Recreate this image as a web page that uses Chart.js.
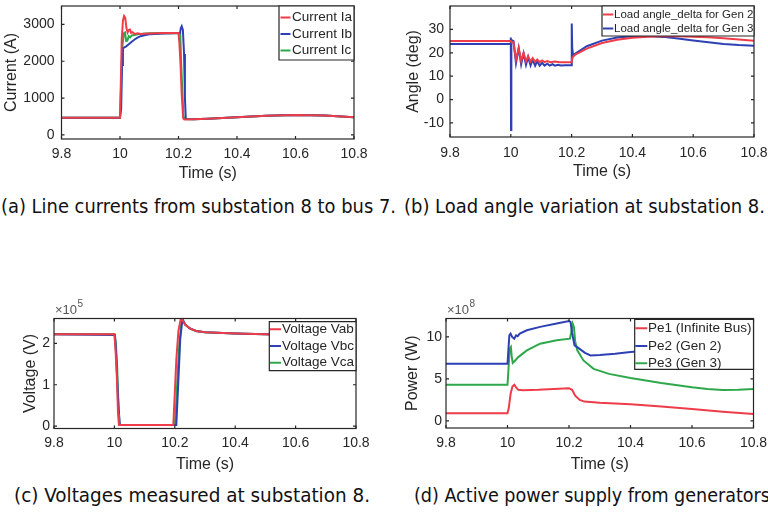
<!DOCTYPE html>
<html>
<head>
<meta charset="utf-8">
<script src="https://cdn.jsdelivr.net/npm/chart.js@4.4.1/dist/chart.umd.min.js"></script>
<style>
  body { margin: 0; background: #fff; width: 768px; height: 519px; overflow: hidden; position: relative; }
  canvas { position: absolute; }
  .cap { position: absolute; white-space: nowrap; font-family: "DejaVu Sans Condensed", "DejaVu Sans", sans-serif;
         font-size: 19px; line-height: 22px; color: #111; transform-origin: 0 50%; }
</style>
</head>
<body>
<canvas id="ca" width="384" height="190" style="left:0;top:0"></canvas>
<canvas id="cb" width="384" height="190" style="left:384px;top:0"></canvas>
<canvas id="cc" width="384" height="190" style="left:0;top:285px"></canvas>
<canvas id="cd" width="384" height="190" style="left:384px;top:285px"></canvas>
<div class="cap" id="capA" data-w="395" style="left:1px;top:195px">(a) Line currents from substation 8 to bus 7.</div>
<div class="cap" id="capB" data-w="361" style="left:404px;top:195px">(b) Load angle variation at substation 8.</div>
<div class="cap" id="capC" data-w="356" style="left:14px;top:484px">(c) Voltages measured at substation 8.</div>
<div class="cap" id="capD" data-w="356" style="left:414px;top:484px">(d) Active power supply from generators</div>
<script>
// shared time axis
const xTicks = [9.8, 10, 10.2, 10.4, 10.6, 10.8];

// (a) line currents, A  [time s, value]
const currentIa = [[9.8,470],[10.0,470],[10.003,1500],[10.006,2600],[10.01,3100],[10.014,3230],[10.018,3180],[10.022,2900],
  [10.026,2780],[10.03,2850],[10.034,2860],[10.038,2770],[10.043,2790],[10.05,2740],[10.06,2760],[10.07,2740],[10.08,2750],
  [10.1,2755],[10.15,2765],[10.2,2765],[10.203,2500],[10.207,1900],[10.211,1100],[10.216,450],[10.22,420],[10.25,425],
  [10.3,440],[10.4,480],[10.5,520],[10.6,540],[10.7,530],[10.8,480]];
const currentIb = [[9.8,470],[10.0,470],[10.004,700],[10.007,1900],[10.01,2350],[10.015,2380],[10.02,2400],[10.03,2460],
  [10.04,2530],[10.05,2590],[10.06,2640],[10.07,2680],[10.08,2700],[10.1,2730],[10.15,2755],[10.205,2765],[10.208,2900],
  [10.211,2950],[10.215,2850],[10.219,2200],[10.222,1000],[10.225,430],[10.25,425],[10.3,440],[10.4,480],[10.5,520],
  [10.6,540],[10.7,530],[10.8,480]];
const currentIc = [[9.8,470],[10.0,470],[10.004,1400],[10.008,2400],[10.013,2760],[10.017,2780],[10.021,2550],[10.025,2560],
  [10.03,2680],[10.035,2650],[10.04,2700],[10.05,2710],[10.06,2730],[10.08,2750],[10.1,2760],[10.2,2765],[10.206,2760],
  [10.209,2000],[10.213,1200],[10.217,500],[10.222,430],[10.25,425],[10.3,440],[10.4,480],[10.5,520],[10.6,540],
  [10.7,530],[10.8,480]];
const yTicksA = [0, 1000, 2000, 3000];

// (b) load angle, deg
const deltaGen2 = [[9.8,25],[10.0,25],[10.002,24.5],[10.009,24.5],[10.017,17],[10.026,22],[10.034,16.5],[10.042,20],
  [10.05,16.3],[10.057,18.6],[10.065,16.2],[10.072,17.7],[10.08,16.1],[10.087,17.1],[10.095,16],[10.103,16.7],[10.111,16],
  [10.12,16.5],[10.13,16],[10.145,16.3],[10.16,16],[10.2,16],[10.203,18],[10.21,19],[10.22,19.8],[10.25,21.8],[10.3,24.2],
  [10.35,25.6],[10.4,26.4],[10.45,26.9],[10.5,27.1],[10.55,27.1],[10.6,26.9],[10.65,26.6],[10.7,26.2],[10.75,25.7],[10.8,25.1]];
const deltaGen3 = [[9.8,23.8],[9.9995,23.8],[10.0,26.5],[10.0008,-13],[10.0018,25.5],[10.009,25],[10.017,15.5],[10.026,22],
  [10.034,15],[10.042,19.8],[10.05,14.8],[10.057,18.2],[10.065,14.6],[10.072,17.1],[10.08,14.5],[10.087,16.4],[10.095,14.5],
  [10.103,15.7],[10.111,14.5],[10.12,15.3],[10.128,14.5],[10.137,15.1],[10.145,14.5],[10.155,14.9],[10.165,14.6],[10.18,14.7],
  [10.2,14.7],[10.2005,32.5],[10.202,22],[10.205,19],[10.22,20.3],[10.25,22.8],[10.3,25.2],[10.35,26.5],[10.4,27.1],
  [10.45,27.2],[10.5,26.8],[10.55,26.1],[10.6,25.3],[10.65,24.5],[10.7,23.8],[10.75,23.3],[10.8,23]];
const yTicksB = [-10, 0, 10, 20, 30];

// (c) line voltages, V
const voltVab = [[9.8,222000],[10.0,222000],[10.004,180000],[10.008,120000],[10.012,30000],[10.015,3000],[10.195,3000],
  [10.2,80000],[10.205,160000],[10.212,230000],[10.22,260000],[10.226,255000],[10.235,245000],[10.25,236000],[10.27,230000],
  [10.3,227000],[10.4,224000],[10.5,222000],[10.6,221000],[10.7,220000],[10.8,220000]];
const voltVbc = [[9.8,222000],[10.002,220000],[10.006,170000],[10.01,100000],[10.014,40000],[10.018,3000],[10.205,3000],
  [10.208,50000],[10.213,130000],[10.218,210000],[10.224,250000],[10.228,255000],[10.235,245000],[10.25,236000],
  [10.27,230000],[10.3,227000],[10.4,224000],[10.5,222000],[10.6,221000],[10.7,220000],[10.8,220000]];
const voltVca = [[9.8,222000],[10.0,222000],[10.005,200000],[10.009,145000],[10.013,60000],[10.017,3000],[10.2,3000],
  [10.205,60000],[10.21,135000],[10.215,200000],[10.222,250000],[10.226,255000],[10.235,245000],[10.25,236000],
  [10.27,230000],[10.3,227000],[10.4,224000],[10.5,222000],[10.6,221000],[10.7,220000],[10.8,220000]];
const yTicksC = [0, 100000, 200000];

// (d) active power, W
const powerPe1 = [[9.8,0.9e8],[10.0,0.9e8],[10.004,1.5e8],[10.01,3.2e8],[10.016,4.1e8],[10.022,4.3e8],[10.028,4.0e8],
  [10.035,3.7e8],[10.05,3.65e8],[10.1,3.7e8],[10.15,3.8e8],[10.2,3.9e8],[10.21,3.7e8],[10.22,3.0e8],[10.235,2.5e8],
  [10.25,2.3e8],[10.3,2.15e8],[10.4,1.98e8],[10.5,1.7e8],[10.6,1.4e8],[10.7,1.1e8],[10.8,0.83e8]];
const powerPe2 = [[9.8,6.8e8],[10.0,6.8e8],[10.003,8.5e8],[10.006,10.2e8],[10.01,10.4e8],[10.015,10.0e8],[10.022,9.8e8],
  [10.028,10.2e8],[10.033,10.1e8],[10.04,10.4e8],[10.063,10.8e8],[10.106,11.2e8],[10.16,11.6e8],[10.2,11.9e8],[10.205,11.8e8],
  [10.21,10.5e8],[10.218,9.0e8],[10.23,8.7e8],[10.252,8.1e8],[10.27,7.8e8],[10.3,7.85e8],[10.35,8.0e8],[10.4,8.2e8],
  [10.5,8.5e8],[10.6,8.7e8],[10.7,8.8e8],[10.8,8.9e8]];
const powerPe3 = [[9.8,4.3e8],[10.0,4.3e8],[10.003,6.0e8],[10.007,8.6e8],[10.011,8.8e8],[10.014,7.6e8],[10.017,6.9e8],
  [10.025,7.2e8],[10.035,7.6e8],[10.063,8.4e8],[10.106,9.2e8],[10.16,9.6e8],[10.203,9.8e8],[10.207,10.5e8],[10.212,11.6e8],
  [10.216,11.2e8],[10.22,9.5e8],[10.227,8.4e8],[10.247,7.2e8],[10.28,6.2e8],[10.33,5.6e8],[10.4,5.1e8],[10.5,4.5e8],
  [10.6,4.0e8],[10.65,3.8e8],[10.7,3.67e8],[10.75,3.7e8],[10.8,3.8e8]];
const yTicksD = [0, 5e8, 10e8];

const RED = '#ee3d48', BLUE = '#2d40b4', GREEN = '#2fa84b', INK = '#262626';
const FONT = "'Liberation Sans', Arial, sans-serif";
Chart.defaults.font.family = FONT;
Chart.defaults.color = INK;

const pts = arr => arr.map(([x, y]) => ({x, y}));

// box with inward ticks on all four sides
const framePlugin = {
  id: 'frame',
  afterDatasetsDraw(chart) {
    const {ctx, chartArea: a, scales: {x, y}} = chart;
    ctx.save();
    ctx.strokeStyle = INK;
    ctx.lineWidth = 1.2;
    ctx.strokeRect(a.left, a.top, a.right - a.left, a.bottom - a.top);
    ctx.beginPath();
    x.ticks.forEach(t => {
      const px = x.getPixelForValue(t.value);
      ctx.moveTo(px, a.bottom); ctx.lineTo(px, a.bottom - 3);
      ctx.moveTo(px, a.top); ctx.lineTo(px, a.top + 3);
    });
    y.ticks.forEach(t => {
      const py = y.getPixelForValue(t.value);
      ctx.moveTo(a.left, py); ctx.lineTo(a.left + 3, py);
      ctx.moveTo(a.right, py); ctx.lineTo(a.right - 3, py);
    });
    ctx.stroke();
    ctx.restore();
  }
};

// legend box drawn inside the axes, like matlab
const boxLegend = {
  id: 'boxLegend',
  afterDraw(chart, args, o) {
    const ctx = chart.ctx;
    const [bx, by, bw, bh] = o.box;
    ctx.save();
    ctx.beginPath();
    ctx.rect(bx, by, bw, bh);
    ctx.fillStyle = '#fff';
    ctx.fill();
    ctx.strokeStyle = INK;
    ctx.lineWidth = 1.2;
    ctx.stroke();
    ctx.clip();
    ctx.font = o.font;
    ctx.textBaseline = 'middle';
    chart.data.datasets.forEach((d, i) => {
      const yy = o.rows[i];
      ctx.strokeStyle = d.borderColor;
      ctx.lineWidth = 2;
      ctx.beginPath();
      ctx.moveTo(o.line[0], yy);
      ctx.lineTo(o.line[1], yy);
      ctx.stroke();
      ctx.fillStyle = INK;
      ctx.fillText(d.label, o.textX, yy);
    });
    ctx.restore();
  }
};

// the "x10^n" exponent above the y axis
const expLabel = {
  id: 'expLabel',
  afterDraw(chart, args, o) {
    if (!o.exp) return;
    const ctx = chart.ctx;
    ctx.save();
    ctx.fillStyle = '#555';
    ctx.textBaseline = 'alphabetic';
    ctx.font = '13px ' + FONT;
    ctx.fillText('\u00d710', o.x, o.y);
    const w = ctx.measureText('\u00d710').width;
    ctx.font = '10px ' + FONT;
    ctx.fillText(o.exp, o.x + w + 0.5, o.y - 7);
    ctx.restore();
  }
};

function makeChart(id, datasets, g) {
  return new Chart(document.getElementById(id), {
    type: 'line',
    data: {
      datasets: datasets.map(([label, data, color]) => ({
        label, data: pts(data), borderColor: color, backgroundColor: color,
        borderWidth: 2, pointRadius: 0, tension: 0, fill: false
      }))
    },
    options: {
      responsive: false,
      animation: false,
      layout: { padding: g.pad },
      scales: {
        x: {
          type: 'linear', min: 9.8, max: 10.8,
          afterBuildTicks: s => { s.ticks = xTicks.map(v => ({value: v})); },
          afterFit: s => { s.height = g.xh; s.paddingLeft = 0; s.paddingRight = 0; },
          grid: { display: false, drawTicks: false }, border: { display: false },
          ticks: { padding: g.xpad, font: { size: 14 }, maxRotation: 0, callback: v => String(+v.toFixed(1)) },
          title: { display: true, text: 'Time (s)', font: { size: 16 }, padding: { top: 0, bottom: 0 } }
        },
        y: {
          type: 'linear', min: g.ymin, max: g.ymax,
          afterBuildTicks: s => { s.ticks = g.yticks.map(v => ({value: v})); },
          afterFit: s => { s.width = g.yw; s.paddingTop = 0; s.paddingBottom = 0; },
          grid: { display: false, drawTicks: false }, border: { display: false },
          ticks: { padding: g.ypad, font: { size: 14 }, callback: g.yfmt },
          title: { display: true, text: g.ytitle, font: { size: 16 }, padding: { top: 0, bottom: 0 } }
        }
      },
      plugins: {
        legend: { display: false },
        tooltip: { enabled: false },
        boxLegend: g.legend,
        expLabel: g.exp || {}
      }
    },
    plugins: [framePlugin, boxLegend, expLabel]
  });
}

makeChart('ca', [['Current Ia', currentIa, RED], ['Current Ib', currentIb, BLUE], ['Current Ic', currentIc, GREEN]], {
  pad: { left: 2.4, top: 6, right: 30, bottom: 7.1 }, yw: 59.1, xh: 43.9, xpad: 7, ypad: 7,
  ymin: -110, ymax: 3500, yticks: yTicksA, yfmt: v => String(v), ytitle: 'Current (A)',
  legend: { box: [279, 6, 75, 54], rows: [17.5, 34, 50.5], line: [280.5, 290.5], textX: 292, font: '13.5px ' + FONT }
});

makeChart('cb', [['Load angle_delta for Gen 2', deltaGen2, RED], ['Load angle_delta for Gen 3', deltaGen3, BLUE]], {
  pad: { left: 20.4, top: 6, right: 14, bottom: 8.7 }, yw: 45.6, xh: 44.3, xpad: 7.3, ypad: 6,
  ymin: -16, ymax: 40, yticks: yTicksB, yfmt: v => String(v), ytitle: 'Angle (deg)',
  legend: { box: [218, 6, 152, 30], rows: [14.5, 28.5], line: [219, 229.3], textX: 230, font: '11.5px ' + FONT }
});

makeChart('cc', [['Voltage Vab', voltVab, RED], ['Voltage Vbc', voltVbc, BLUE], ['Voltage Vca', voltVca, GREEN]], {
  pad: { left: 21.4, top: 33.5, right: 28, bottom: 1.1 }, yw: 32.6, xh: 45.4, xpad: 6.4, ypad: 4,
  ymin: -5600, ymax: 260000, yticks: yTicksC, yfmt: v => String(v / 1e5), ytitle: 'Voltage (V)',
  legend: { box: [269.3, 36.7, 86.7, 49], rows: [44.3, 61, 77.7], line: [270, 281], textX: 282, font: '13.5px ' + FONT },
  exp: { exp: '5', x: 55, y: 29 }
});

makeChart('cd', [['Pe1 (Infinite Bus)', powerPe1, RED], ['Pe2 (Gen 2)', powerPe2, BLUE], ['Pe3 (Gen 3)', powerPe3, GREEN]], {
  pad: { left: 19.4, top: 33.5, right: 14.5, bottom: 1.1 }, yw: 42.6, xh: 45.9, xpad: 6.9, ypad: 4,
  ymin: -0.85e8, ymax: 12.2e8, yticks: yTicksD, yfmt: v => String(v / 1e8), ytitle: 'Power (W)',
  legend: { box: [250.7, 34.3, 118.8, 50], rows: [43.3, 61, 78.3], line: [251.3, 263.3], textX: 264, font: '13.5px ' + FONT },
  exp: { exp: '8', x: 63, y: 29 }
});

// stretch captions to the measured widths
document.querySelectorAll('.cap').forEach(el => {
  const w = el.getBoundingClientRect().width;
  el.style.transform = 'scaleX(' + (+el.dataset.w / w) + ')';
});
</script>
</body>
</html>
